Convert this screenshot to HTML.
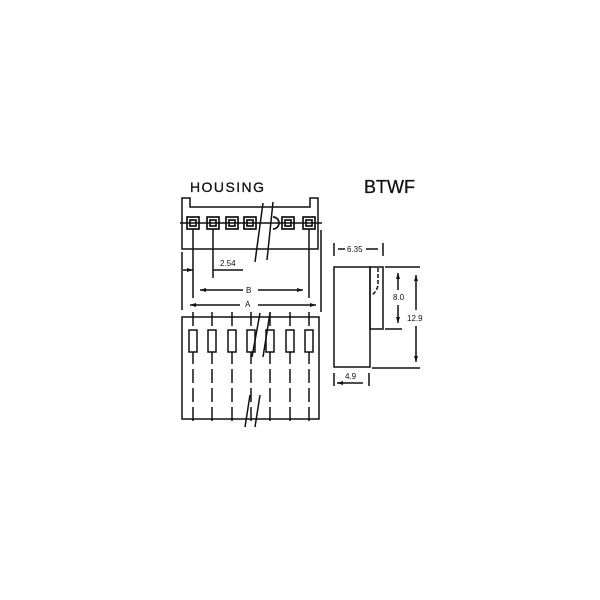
<!DOCTYPE html>
<html><head><style>body{margin:0;background:#fff}svg{display:block}</style></head><body>
<svg width="600" height="600" viewBox="0 0 600 600" xmlns="http://www.w3.org/2000/svg" font-family="Liberation Sans, sans-serif">
<g stroke="#111" fill="none" stroke-width="1.5">
<path d="M182 249 V198 H190 V207 H310 V198 H318 V249 Z"/>
<line x1="180" y1="223" x2="322" y2="223"/>
<g stroke-width="1.7">
<rect x="187" y="217" width="12" height="12"/><rect x="190" y="220" width="6" height="6"/>
<rect x="207" y="217" width="12" height="12"/><rect x="210" y="220" width="6" height="6"/>
<rect x="226" y="217" width="12" height="12"/><rect x="229" y="220" width="6" height="6"/>
<rect x="244" y="217" width="12" height="12"/><rect x="247" y="220" width="6" height="6"/>
<path d="M273 217 a6 6 0 0 1 0 12"/>
<rect x="282" y="217" width="12" height="12"/><rect x="285" y="220" width="6" height="6"/>
<rect x="303" y="217" width="12" height="12"/><rect x="306" y="220" width="6" height="6"/>
</g>
<line x1="263" y1="203" x2="255" y2="262"/><line x1="273" y1="202" x2="267" y2="260"/>
<line x1="193" y1="229" x2="193" y2="298"/><line x1="213" y1="229" x2="213" y2="278"/>
<line x1="309" y1="229" x2="309" y2="298"/>
<line x1="182" y1="252" x2="182" y2="310"/><line x1="321" y1="230" x2="321" y2="312"/>
<line x1="183" y1="270" x2="193" y2="270"/><line x1="213" y1="270" x2="243" y2="270"/>
<line x1="200" y1="290" x2="243" y2="290"/><line x1="258" y1="290" x2="303" y2="290"/>
<line x1="190" y1="305" x2="240" y2="305"/><line x1="258" y1="305" x2="316" y2="305"/>
<rect x="182" y="317" width="137" height="102"/>
<g stroke-dasharray="14 5">
<line x1="193" y1="312" x2="193" y2="426"/><line x1="212" y1="312" x2="212" y2="426"/>
<line x1="232" y1="312" x2="232" y2="426"/><line x1="251" y1="312" x2="251" y2="426"/>
<line x1="270" y1="312" x2="270" y2="426"/><line x1="290" y1="312" x2="290" y2="426"/>
<line x1="309" y1="312" x2="309" y2="426"/>
</g>
<g fill="#fff">
<rect x="189" y="330" width="8" height="22"/><rect x="208" y="330" width="8" height="22"/>
<rect x="228" y="330" width="8" height="22"/><rect x="247" y="330" width="8" height="22"/>
<rect x="266" y="330" width="8" height="22"/><rect x="286" y="330" width="8" height="22"/>
<rect x="305" y="330" width="8" height="22"/>
</g>
<line x1="260" y1="313" x2="252" y2="357"/><line x1="270" y1="313" x2="263" y2="357"/>
<line x1="250" y1="395" x2="245" y2="427"/><line x1="260" y1="395" x2="255" y2="427"/>
<rect x="334" y="267" width="36" height="100"/>
<rect x="370" y="267" width="13" height="62"/>
<path d="M378 268 V284 Q378 290 372 295" stroke-dasharray="4 2"/>
<line x1="334" y1="243" x2="334" y2="256"/><line x1="383" y1="243" x2="383" y2="256"/>
<line x1="338" y1="249" x2="345" y2="249"/><line x1="366" y1="249" x2="378" y2="249"/>
<line x1="385" y1="267" x2="420" y2="267"/><line x1="385" y1="329" x2="402" y2="329"/>
<line x1="372" y1="368" x2="420" y2="368"/>
<line x1="398" y1="273" x2="398" y2="290"/><line x1="398" y1="305" x2="398" y2="323"/>
<line x1="416" y1="275" x2="416" y2="310"/><line x1="416" y1="326" x2="416" y2="362"/>
<line x1="334" y1="373" x2="334" y2="386"/><line x1="369" y1="373" x2="369" y2="386"/>
<line x1="337" y1="383" x2="363" y2="383"/>
</g>
<g fill="#111">
<path d="M193 270 l-6 -2 v4z"/><path d="M200 290 l6 -2 v4z"/><path d="M303 290 l-6 -2 v4z"/>
<path d="M190 305 l6 -2 v4z"/><path d="M316 305 l-6 -2 v4z"/>
<path d="M398 273 l-2 6 h4z"/><path d="M398 323 l-2 -6 h4z"/>
<path d="M416 275 l-2 6 h4z"/><path d="M416 362 l-2 -6 h4z"/>
<path d="M337 383 l6 -2 v4z"/>
</g>
<g fill="#111" font-size="8">
<text x="220" y="266">2.54</text>
<text x="246" y="293">B</text>
<text x="245" y="307">A</text>
<text x="347" y="252">6.35</text>
<text x="393" y="300">8.0</text>
<text x="407" y="321">12.9</text>
<text x="345" y="379">4.9</text>
</g>
<text x="190" y="192" font-size="14" fill="#111" stroke="#111" stroke-width="0.3" textLength="74">HOUSING</text>
<text x="364" y="193" font-size="18" fill="#111" stroke="#111" stroke-width="0.3">BTWF</text>
</svg>
</body></html>
